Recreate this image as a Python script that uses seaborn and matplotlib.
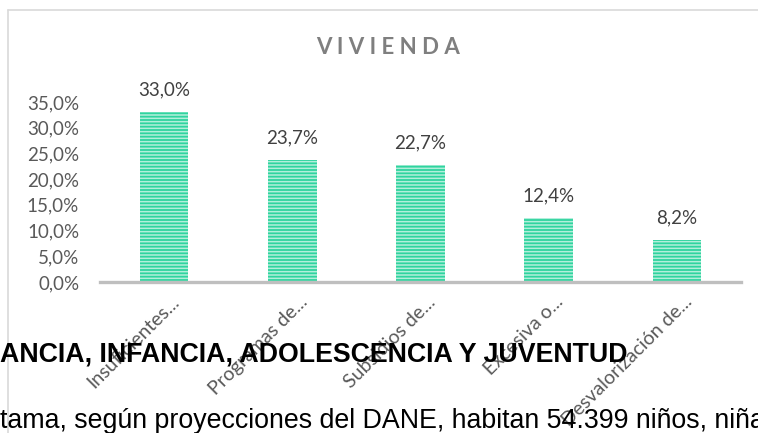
import matplotlib
matplotlib.use('Agg')
from matplotlib import pyplot as plt
from matplotlib.lines import Line2D
from matplotlib.transforms import ScaledTranslation
import seaborn as sns

categories = ['Insuficientes...', 'Programas de...', 'Subsidios de...',
              'Excesiva o...', 'Desvalorización de...']
values = [33.0, 23.7, 22.7, 12.4, 8.2]
yticks = [0, 5, 10, 15, 20, 25, 30, 35]
ytick_labels = [('%.1f%%' % v).replace('.', ',') for v in yticks]
value_labels = [('%.1f%%' % v).replace('.', ',') for v in values]

title = 'V I V I E N D A'
heading = 'ANCIA, INFANCIA, ADOLESCENCIA Y JUVENTUD'
body = 'tama, según proyecciones del DANE, habitan 54.399 niños, niña'

sns.set_style('white')
plt.rcParams['font.family'] = ['Lato', 'DejaVu Sans']
plt.rcParams['hatch.linewidth'] = 1.1

fig = plt.figure(figsize=(7.58, 4.33), dpi=100)
ax = fig.add_axes([100 / 758, (433 - 282) / 433, 641 / 758, 180 / 433])

sns.barplot(x=categories, y=values, ax=ax, color='#2fd49f', saturation=1,
            width=0.38, edgecolor='#b2efdb', linewidth=0)
for p in ax.patches:
    p.set_hatch('-----')

ax.bar_label(ax.containers[0], labels=value_labels, padding=10,
             fontsize=13.5, color='#404040')

ax.set_ylim(0, 35)
ax.set_xlim(-0.5, 4.5)
ax.set_yticks(yticks)
ax.set_yticklabels(ytick_labels, fontsize=13.5, color='#595959')
ax.tick_params(axis='y', length=0, pad=15)
ax.tick_params(axis='x', length=0, pad=8)
ax.set_xticks(range(len(categories)))
ax.set_xticklabels(categories, rotation=45, ha='right', va='top',
                   rotation_mode='anchor', fontsize=14, color='#595959')
shift = ScaledTranslation(0.06, 0, fig.dpi_scale_trans)
for lab in ax.get_xticklabels():
    lab.set_transform(lab.get_transform() + shift)
ax.set_xlabel('')
ax.set_ylabel('')
sns.despine(ax=ax, left=True)
ax.spines['bottom'].set_color('#bfbfbf')
ax.spines['bottom'].set_linewidth(2.4)
ax.grid(False)

# chart frame
fig.add_artist(Line2D([8 / 758, 1], [1 - 10 / 433, 1 - 10 / 433],
                      color='#d9d9d9', lw=1.2, transform=fig.transFigure))
fig.add_artist(Line2D([8 / 758, 8 / 758], [0, 1 - 10 / 433],
                      color='#d9d9d9', lw=1.2, transform=fig.transFigure))

fig.text(388 / 758, 1 - 48 / 433, title, ha='center', va='center',
         fontsize=16, fontweight='bold', color='#7f7f7f')

fig.text(0, 1 - 362 / 433, heading, ha='left', va='baseline',
         fontsize=19.3, fontweight='bold', color='black',
         family=['Liberation Sans', 'DejaVu Sans'], zorder=5)
fig.text(0, 1 - 428 / 433, body, ha='left', va='baseline',
         fontsize=19.3, color='black',
         family=['Liberation Sans', 'DejaVu Sans'], zorder=5)

fig.savefig('out.png', dpi=100)
